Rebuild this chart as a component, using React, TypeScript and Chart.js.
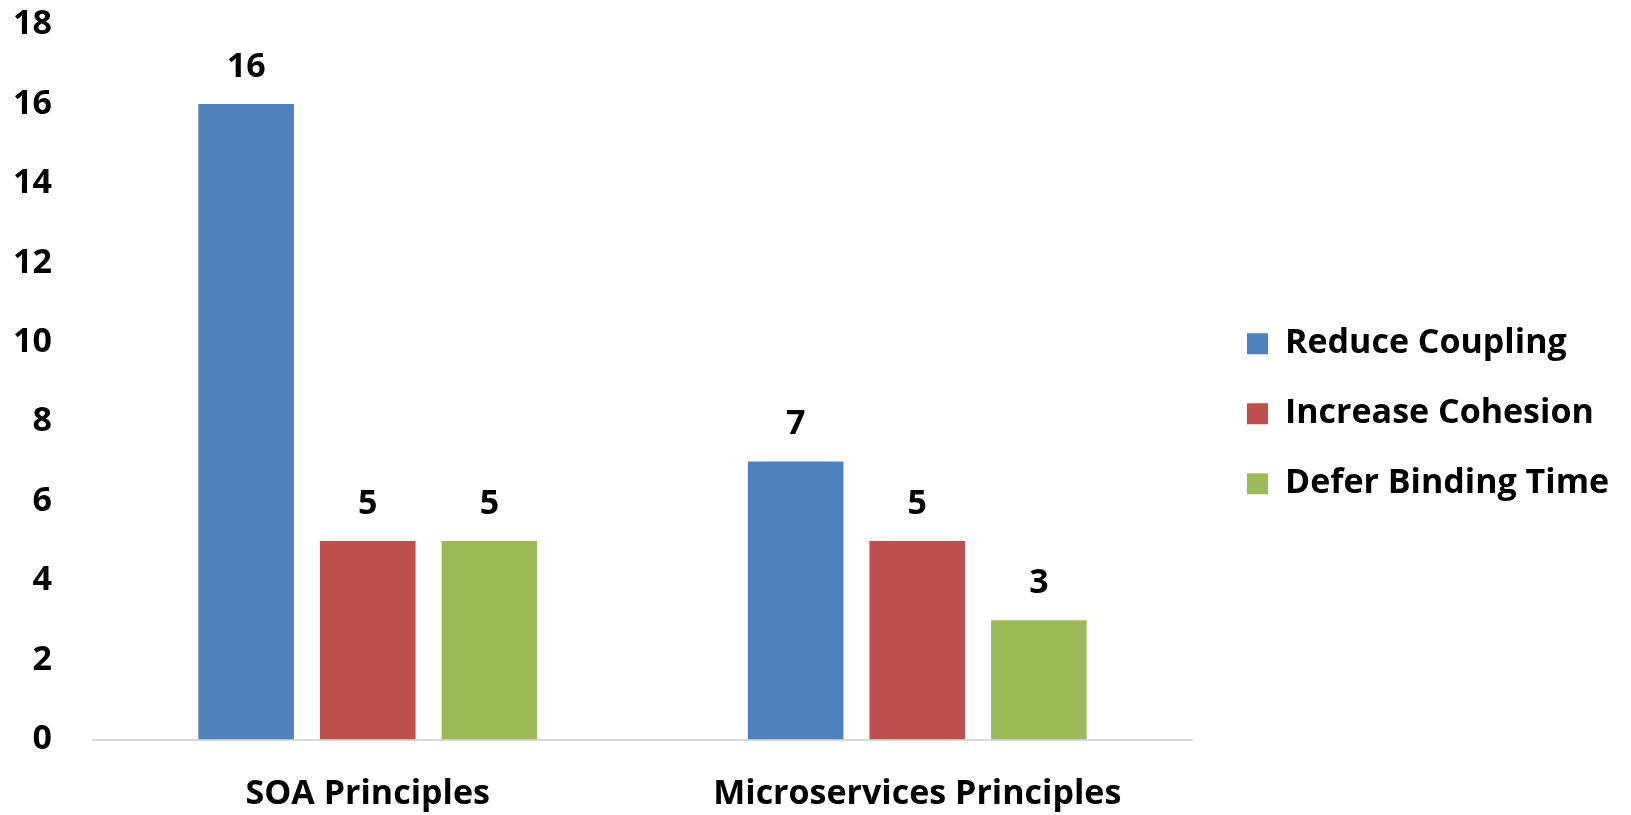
import React, { useEffect, useRef } from "react";
import { Chart, registerables } from "chart.js";

Chart.register(...registerables);

const categories = ["SOA Principles", "Microservices Principles"];
const seriesNames = ["Reduce Coupling", "Increase Cohesion", "Defer Binding Time"];
const reduceCoupling = [16, 7];
const increaseCohesion = [5, 5];
const deferBindingTime = [5, 3];
const seriesColors = ["#4F81BD", "#C0504D", "#9BBB59"];
const yTicks = [0, 2, 4, 6, 8, 10, 12, 14, 16, 18];

const FONT = "'Open Sans', sans-serif";
const FS = 34;

const dataLabelPlugin = {
  id: "dataLabels",
  afterDatasetsDraw(chart: any) {
    const ctx = chart.ctx;
    ctx.save();
    ctx.font = `bold ${FS}px ${FONT}`;
    ctx.fillStyle = "#000";
    ctx.textAlign = "center";
    ctx.textBaseline = "alphabetic";
    chart.data.datasets.forEach((ds: any, i: number) => {
      const meta = chart.getDatasetMeta(i);
      meta.data.forEach((el: any, j: number) => {
        ctx.fillText(String(ds.data[j]), el.x, el.y - 27);
      });
    });
    ctx.restore();
  },
};

const legendShiftPlugin = {
  id: "legendShift",
  afterLayout(chart: any) {
    const lg = chart.legend;
    if (!lg) return;
    lg.left += 19;
    lg.right += 19;
    lg.top -= 6;
    lg.bottom -= 6;
  },
};

export default function App() {
  const ref = useRef<HTMLCanvasElement | null>(null);
  useEffect(() => {
    if (!ref.current) return;
    const seriesData = [reduceCoupling, increaseCohesion, deferBindingTime];
    const chart = new Chart(ref.current, {
      type: "bar",
      data: {
        labels: categories,
        datasets: seriesNames.map((name, i) => ({
          label: name,
          data: seriesData[i],
          backgroundColor: seriesColors[i],
          borderWidth: 0,
          categoryPercentage: 0.664,
          barPercentage: 0.786,
        })),
      },
      options: {
        responsive: false,
        animation: false,
        layout: { padding: { top: 24.5, left: 0, right: 0, bottom: 0 } },
        plugins: {
          tooltip: { enabled: false },
          legend: {
            position: "right",
            labels: {
              boxWidth: 21,
              boxHeight: 21,
              padding: 36,
              color: "#000",
              font: { family: FONT, size: FS, weight: "bold" },
            },
          },
        },
        scales: {
          x: {
            afterFit: (scale: any) => {
              scale.height = 75.5;
              scale.paddingLeft = 0;
              scale.paddingRight = 439;
            },
            grid: { display: false, drawTicks: false },
            border: { display: true, color: "#D9D9D9", width: 2 },
            ticks: {
              color: "#000",
              padding: 34,
              maxRotation: 0,
              font: { family: FONT, size: FS, weight: "bold" },
            },
          },
          y: {
            min: 0,
            max: 18,
            afterBuildTicks: (scale: any) => {
              scale.ticks = yTicks.map((v) => ({ value: v }));
            },
            afterFit: (scale: any) => {
              scale.width = 93;
              scale.paddingTop = 0;
              scale.paddingBottom = 0;
            },
            grid: { display: false, drawTicks: false },
            border: { display: false },
            ticks: {
              color: "#000",
              padding: 41,
              font: { family: FONT, size: FS, weight: "bold" },
            },
          },
        },
      },
      plugins: [dataLabelPlugin, legendShiftPlugin],
    });
    return () => chart.destroy();
  }, []);
  return (
    <div style={{ position: "fixed", left: 0, top: 0, width: 1631, height: 815, background: "#fff" }}>
      <canvas ref={ref} width={1631} height={815} style={{ display: "block" }} />
    </div>
  );
}
